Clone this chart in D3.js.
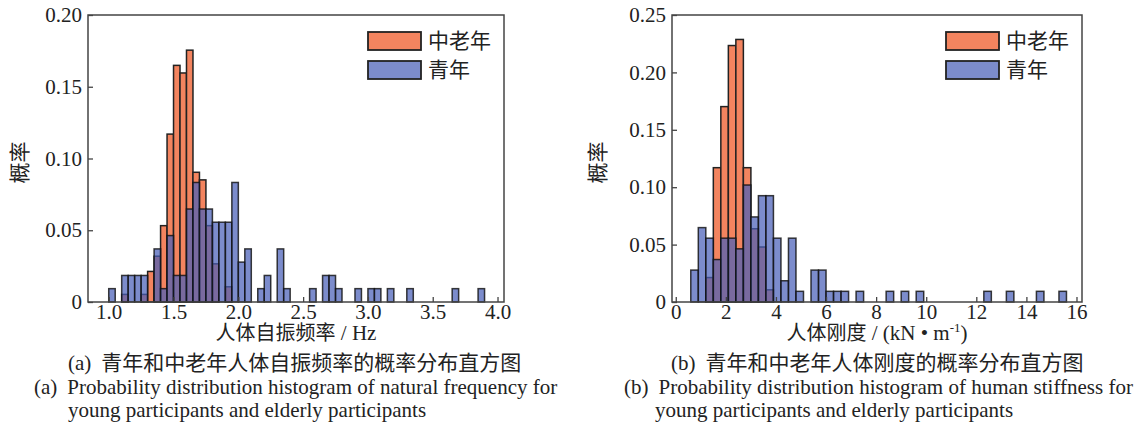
<!DOCTYPE html>
<html><head><meta charset="utf-8">
<script src="https://cdn.jsdelivr.net/npm/d3@7/dist/d3.min.js"></script>
<style>
html,body{margin:0;padding:0;background:#fff;}
svg{display:block;}
text{font-family:"Liberation Serif","Noto Sans CJK SC",serif;fill:#222;}
</style></head>
<body>
<svg id="chart" width="1144" height="429"></svg>
<script>
// ---------- Data ----------
const seriesNames = ["中老年", "青年"];

// (a) natural frequency, bin width 0.05 Hz
const freqBinWidth = 0.05;
const freqElderStarts = [1.10,1.25,1.30,1.35,1.40,1.45,1.50,1.55,1.60,1.65,1.70,1.75,1.80,1.90];
const freqElderProb   = [0.0053,0.0053,0.0213,0.0319,0.0532,0.1170,0.1649,0.1596,0.1755,0.0904,0.0851,0.0532,0.0266,0.0106];
const freqYoungStarts = [1.00,1.10,1.15,1.20,1.25,1.35,1.40,1.45,1.50,1.55,1.60,1.65,1.70,1.75,1.80,1.85,1.90,1.95,2.00,2.05,2.15,2.20,2.30,2.35,2.55,2.65,2.70,2.75,2.90,3.00,3.05,3.15,3.30,3.65,3.85];
const freqYoungProb   = [0.0093,0.0185,0.0185,0.0185,0.0185,0.0370,0.0093,0.0463,0.0185,0.0185,0.0648,0.0833,0.0648,0.0648,0.0556,0.0556,0.0556,0.0833,0.0278,0.0370,0.0093,0.0185,0.0370,0.0093,0.0093,0.0185,0.0185,0.0093,0.0093,0.0093,0.0093,0.0093,0.0093,0.0093,0.0093];
const freqXTicks = [1.0,1.5,2.0,2.5,3.0,3.5,4.0];
const freqXTickLabels = ["1.0","1.5","2.0","2.5","3.0","3.5","4.0"];
const freqYTicks = [0,0.05,0.10,0.15,0.20];
const freqYTickLabels = ["0","0.05","0.10","0.15","0.20"];

// (b) stiffness, bin width 0.3 kN/m
const stiffBinWidth = 0.3;
const stiffElderStarts = [1.2,1.5,1.8,2.1,2.4,2.7,3.0,3.3,3.6];
const stiffElderProb   = [0.0213,0.1170,0.1702,0.2234,0.2287,0.1170,0.0638,0.0479,0.0106];
const stiffYoungStarts = [0.6,0.9,1.2,1.5,1.8,2.1,2.4,2.7,3.0,3.3,3.6,3.9,4.2,4.5,4.8,5.4,5.7,6.0,6.3,6.6,7.2,8.4,9.0,9.6,12.3,13.2,14.4,15.3];
const stiffYoungProb   = [0.0278,0.0648,0.0556,0.0370,0.0556,0.0556,0.0463,0.1019,0.0741,0.0926,0.0926,0.0556,0.0185,0.0556,0.0093,0.0278,0.0278,0.0093,0.0093,0.0093,0.0093,0.0093,0.0093,0.0093,0.0093,0.0093,0.0093,0.0093];
const stiffXTicks = [0,2,4,6,8,10,12,14,16];
const stiffXTickLabels = ["0","2","4","6","8","10","12","14","16"];
const stiffYTicks = [0,0.05,0.10,0.15,0.20,0.25];
const stiffYTickLabels = ["0","0.05","0.10","0.15","0.20","0.25"];

// ---------- Styles ----------
const ORANGE = "#F3845F";
const BLUE = "#4A5FB8";
const BLUE_OPACITY = 0.72;
const FS = 21;

const svg = d3.select("#chart");

function panel(cfg) {
  const g = svg.append("g");
  const x = d3.scaleLinear().domain(cfg.xDomain).range([cfg.left, cfg.right]);
  const y = d3.scaleLinear().domain(cfg.yDomain).range([cfg.bottom, cfg.top]);

  // elder bars (opaque)
  const elder = cfg.elderStarts.map((s,i)=>({s, v: cfg.elderProb[i]}));
  g.append("g").selectAll("rect").data(elder).join("rect")
    .attr("x", d=>x(d.s)).attr("width", d=>x(d.s+cfg.bw)-x(d.s))
    .attr("y", d=>y(d.v)).attr("height", d=>y(0)-y(d.v))
    .attr("fill", ORANGE).attr("stroke", "#222").attr("stroke-width", 1.5);

  // young bars (translucent)
  const young = cfg.youngStarts.map((s,i)=>({s, v: cfg.youngProb[i]}));
  g.append("g").selectAll("rect").data(young).join("rect")
    .attr("x", d=>x(d.s)).attr("width", d=>x(d.s+cfg.bw)-x(d.s))
    .attr("y", d=>y(d.v)).attr("height", d=>y(0)-y(d.v))
    .attr("fill", BLUE).attr("fill-opacity", BLUE_OPACITY)
    .attr("stroke", "#111").attr("stroke-opacity", 0.82).attr("stroke-width", 1.5);

  // frame
  g.append("rect").attr("x", cfg.left).attr("y", cfg.top)
    .attr("width", cfg.right-cfg.left).attr("height", cfg.bottom-cfg.top)
    .attr("fill", "none").attr("stroke", "#444").attr("stroke-width", 1.5);

  // x axis (ticks inward)
  const xAxis = d3.axisBottom(x).tickValues(cfg.xTicks)
    .tickFormat((d,i)=>cfg.xTickLabels[i]).tickSizeInner(-5).tickSizeOuter(0).tickPadding(2);
  const gx = g.append("g").attr("transform", `translate(0,${cfg.bottom})`).call(xAxis);
  gx.select(".domain").remove();
  gx.selectAll(".tick line").attr("stroke", "#444").attr("stroke-width", 1.3);
  gx.selectAll(".tick text").attr("font-size", FS).attr("font-family", "Liberation Serif").attr("fill", "#222");

  // y axis (ticks inward)
  const yAxis = d3.axisLeft(y).tickValues(cfg.yTicks)
    .tickFormat((d,i)=>cfg.yTickLabels[i]).tickSizeInner(-5).tickSizeOuter(0).tickPadding(6);
  const gy = g.append("g").attr("transform", `translate(${cfg.left},0)`).call(yAxis);
  gy.select(".domain").remove();
  gy.selectAll(".tick line").attr("stroke", "#444").attr("stroke-width", 1.3);
  gy.selectAll(".tick text").attr("font-size", FS).attr("font-family", "Liberation Serif").attr("fill", "#222");

  // y label
  g.append("text").attr("transform", `translate(${cfg.ylabelX},${(cfg.top+cfg.bottom)/2+4}) rotate(-90)`)
    .attr("text-anchor", "middle").attr("dominant-baseline", "central")
    .attr("font-size", FS).attr("font-family", "Noto Sans CJK SC").text("概率");

  // legend
  const lx = cfg.right - 136, ly = 32;
  [[ORANGE,1,seriesNames[0]],[BLUE,BLUE_OPACITY,seriesNames[1]]].forEach((it,i)=>{
    g.append("rect").attr("x", lx).attr("y", ly + i*29).attr("width", 53).attr("height", 18)
      .attr("fill", it[0]).attr("fill-opacity", it[1]).attr("stroke", "#222").attr("stroke-width", 1.8);
    g.append("text").attr("x", lx + 60).attr("y", ly + i*29 + 9)
      .attr("dominant-baseline", "central").attr("font-size", FS)
      .attr("font-family", "Noto Sans CJK SC").text(it[2]);
  });
  return {x, y};
}

panel({
  left: 88, right: 504, top: 15, bottom: 302,
  xDomain: [0.84, 4.05], yDomain: [0, 0.20], bw: freqBinWidth,
  elderStarts: freqElderStarts, elderProb: freqElderProb,
  youngStarts: freqYoungStarts, youngProb: freqYoungProb,
  xTicks: freqXTicks, xTickLabels: freqXTickLabels,
  yTicks: freqYTicks, yTickLabels: freqYTickLabels,
  ylabelX: 20
});
panel({
  left: 672, right: 1082, top: 15, bottom: 302,
  xDomain: [-0.15, 16.22], yDomain: [0, 0.25], bw: stiffBinWidth,
  elderStarts: stiffElderStarts, elderProb: stiffElderProb,
  youngStarts: stiffYoungStarts, youngProb: stiffYoungProb,
  xTicks: stiffXTicks, xTickLabels: stiffXTickLabels,
  yTicks: stiffYTicks, yTickLabels: stiffYTickLabels,
  ylabelX: 598
});

// axis titles
const TFS = 20;
const t1 = svg.append("text").attr("x", 296).attr("y", 340).attr("text-anchor","middle").attr("font-size", TFS);
t1.append("tspan").attr("font-family","Noto Sans CJK SC").text("人体自振频率");
t1.append("tspan").attr("font-size", FS).text(" / Hz");

const t2 = svg.append("text").attr("x", 877).attr("y", 340).attr("text-anchor","middle").attr("font-size", TFS);
t2.append("tspan").attr("font-family","Noto Sans CJK SC").text("人体刚度");
t2.append("tspan").attr("font-size", FS).text(" / (kN • m");
t2.append("tspan").attr("font-size", 13).attr("dy", -8).text("-1");
t2.append("tspan").attr("font-size", FS).attr("dy", 8).text(")");

// captions
function caption(x, y, label, body, cjk) {
  const t = svg.append("text").attr("x", x).attr("y", y).attr("font-size", FS);
  t.append("tspan").text(label);
  const b = t.append("tspan").attr("dx", 10).text(body);
  if (cjk) b.attr("font-family", "Noto Sans CJK SC");
  return t;
}
caption(68, 370, "(a)", "青年和中老年人体自振频率的概率分布直方图", true);
caption(34, 394, "(a)", "Probability distribution histogram of natural frequency for", false);
svg.append("text").attr("x", 68).attr("y", 417).attr("font-size", FS).text("young participants and elderly participants");

caption(671, 370, "(b)", "青年和中老年人体刚度的概率分布直方图", true);
caption(624, 394, "(b)", "Probability distribution histogram of human stiffness for", false);
svg.append("text").attr("x", 655).attr("y", 417).attr("font-size", FS).text("young participants and elderly participants");
</script>
</body></html>
